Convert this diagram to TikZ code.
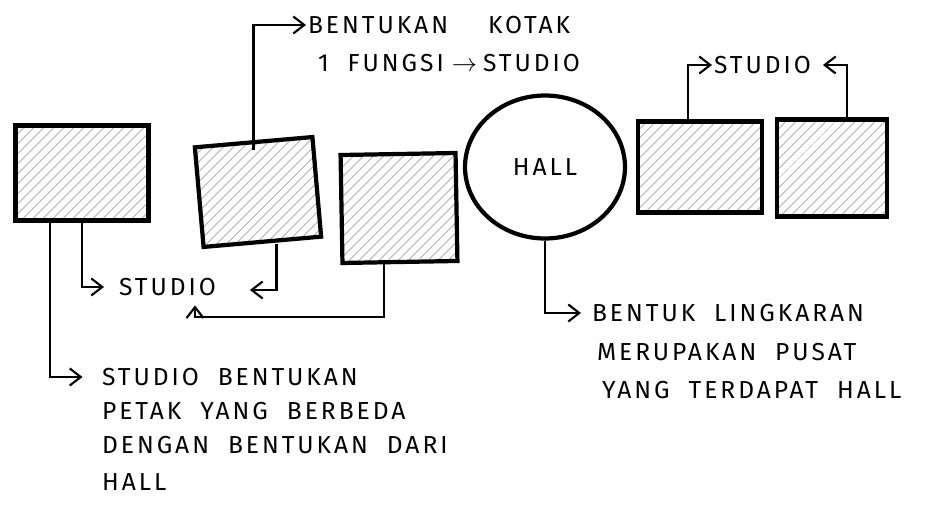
\documentclass[tikz,border=0pt]{standalone}
\usepackage{fontspec}
\newfontfamily\handfont[LetterSpace=12,WordSpace=2]{Fira Sans}
\usetikzlibrary{positioning,calc,shapes.geometric,arrows.meta,patterns.meta}

\begin{document}
\begin{tikzpicture}[
  x=0.02cm, y=-0.02cm,
  room/.style={draw=black, line width=2.4pt, inner sep=0pt,
    pattern={Lines[angle=45,distance=4pt,line width=0.5pt]}, pattern color=gray!70},
  note/.style={font=\handfont\fontsize{14}{16}\selectfont, inner sep=1pt, anchor=west},
  link/.style={->, line width=1.2pt},
  >={Straight Barb[length=2.2mm,width=3.4mm]}
]
  \useasboundingbox (0,0) rectangle (930,510);

  % Studio boxes
  \node[room, minimum width=2.66cm, minimum height=1.9cm] (box1) at (82,173) {};
  \node[room, minimum width=2.36cm, minimum height=2.0cm, rotate=5] (box2) at (258,192) {};
  \node[room, minimum width=2.3cm, minimum height=2.16cm, rotate=1] (box3) at (399,208) {};
  \node[room, minimum width=2.48cm, minimum height=1.82cm] (box4) at (700,167) {};
  \node[room, minimum width=2.2cm, minimum height=1.94cm] (box5) at (832,168) {};

  % Hall
  \node[ellipse, draw, line width=2.4pt, minimum width=3.2cm, minimum height=2.86cm,
    font=\handfont\fontsize{14}{16}\selectfont] (hall) at (545,167) {HALL};

  % Labels
  \node[note] (kotak1) at (306,25) {BENTUKAN\hspace{8mm}KOTAK};
  \node[note] (kotak2) at (316,63) {1 FUNGSI\hspace{1.6mm}$\rightarrow$\hspace{1.2mm}STUDIO};
  \node[note] (studioR) at (712,65) {STUDIO};
  \node[note] (studioM) at (117,287) {STUDIO};

  \node[note] (n1) at (100,377) {STUDIO BENTUKAN};
  \node[note] (n2) at (100,411) {PETAK YANG BERBEDA};
  \node[note] (n3) at (100,445) {DENGAN BENTUKAN DARI};
  \node[note] (n4) at (100,482) {HALL};

  \node[note] (h1) at (590,313) {BENTUK LINGKARAN};
  \node[note] (h2) at (595,352) {MERUPAKAN PUSAT};
  \node[note] (h3) at (600,390) {YANG TERDAPAT HALL};

  % Connections
  \draw[link] ($(box2.north)+(0,10)$) |- (kotak1.west);
  \draw[link] ($(box4.north)+(-12,0)$) |- (studioR.west);
  \draw[link, shorten >=2mm] ($(box5.north)+(15,0)$) |- (studioR.east);
  \draw[link, shorten >=2.6mm] (box1.south) |- (studioM.west);
  \draw[link, shorten >=6.4mm] ($(box2.south)+(14,0)$) |- ($(studioM.east)+(0,3)$);
  \coordinate (bend) at (195,317);
  \draw[link, shorten >=1.5mm] ($(box3.south)+(-16,0)$) |- (bend) -- (bend |- studioM.south);
  \draw[link, shorten >=3.5mm] ($(box1.south)+(-32,0)$) |- (n1.west);
  \draw[link, shorten >=1.8mm] (hall.south) |- (h1.west);
\end{tikzpicture}
\end{document}
